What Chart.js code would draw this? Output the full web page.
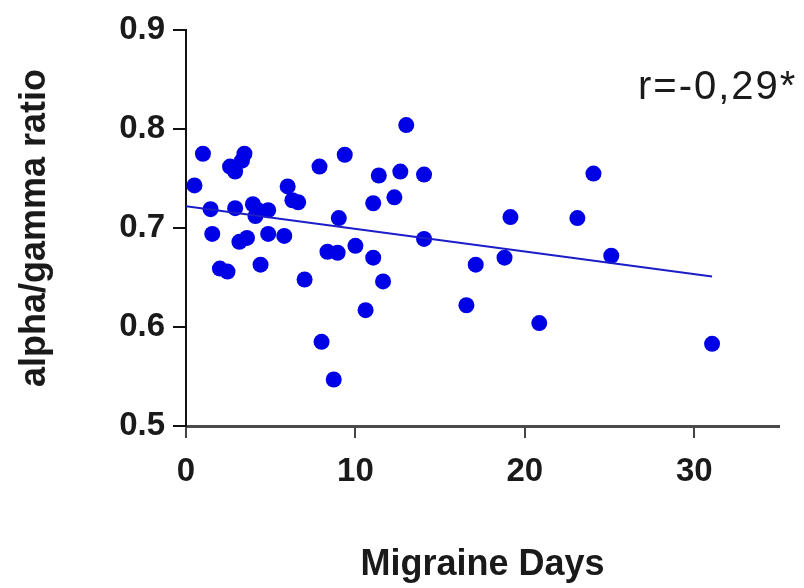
<!DOCTYPE html>
<html>
<head>
<meta charset="utf-8">
<script src="https://cdn.jsdelivr.net/npm/chart.js@4/dist/chart.umd.min.js"></script>
<style>
html,body{margin:0;padding:0;background:#fff;}
#wrap{width:804px;height:588px;position:relative;}
</style>
</head>
<body>
<div id="wrap"><canvas id="c" width="804" height="588"></canvas></div>
<script>
const migraineDays = [0.5,1.0,1.45,1.55,2.0,2.45,2.6,2.9,2.9,3.15,3.3,3.45,3.6,3.95,4.1,4.25,4.4,4.85,4.85,5.8,6.0,6.28,6.62,7.0,7.88,8.0,8.35,8.72,8.95,9.02,9.37,10.0,10.6,11.05,11.05,11.38,11.63,12.3,12.65,13.0,14.05,14.05,16.55,17.1,18.8,19.15,20.85,23.1,24.05,25.1,31.05];
const alphaGammaRatio = [0.743,0.775,0.719,0.694,0.659,0.656,0.762,0.757,0.720,0.686,0.768,0.775,0.690,0.724,0.712,0.718,0.663,0.718,0.694,0.692,0.742,0.728,0.726,0.648,0.762,0.585,0.676,0.547,0.675,0.710,0.774,0.682,0.617,0.670,0.725,0.753,0.646,0.731,0.757,0.804,0.754,0.689,0.622,0.663,0.670,0.711,0.604,0.710,0.755,0.672,0.583];
const fitX = [0, 31.05];
const fitY = [0.722, 0.651];
const xTicks = [0, 10, 20, 30];
const yTicks = [0.5, 0.6, 0.7, 0.8, 0.9];
const xTitle = 'Migraine Days';
const yTitle = 'alpha/gamma ratio';
const annotationText = 'r=-0,29*';

const scatterData = migraineDays.map((d, i) => ({x: d, y: alphaGammaRatio[i]}));
const fitData = fitX.map((d, i) => ({x: d, y: fitY[i]}));

const annotationPlugin = {
  id: 'rText',
  afterDraw(chart) {
    const ctx = chart.ctx;
    ctx.save();
    ctx.font = '40px "Liberation Sans", Arial, sans-serif';
    ctx.fillStyle = '#1a1a1a';
    ctx.textAlign = 'left';
    ctx.textBaseline = 'alphabetic';
    try { ctx.letterSpacing = '2px'; } catch (e) {}
    ctx.fillText(annotationText, 638, 99);
    ctx.restore();
  }
};

const tickFont = {family: '"Liberation Sans", Arial, sans-serif', size: 33, weight: 'bold'};
const titleFont = {family: '"Liberation Sans", Arial, sans-serif', size: 36, weight: 'bold'};

new Chart(document.getElementById('c'), {
  type: 'scatter',
  data: {
    datasets: [
      {
        type: 'line',
        data: fitData,
        borderColor: '#1c1cc8',
        borderWidth: 2,
        pointRadius: 0,
        fill: false,
        tension: 0
      },
      {
        data: scatterData,
        backgroundColor: '#0000e6',
        borderColor: '#0000e6',
        pointRadius: 8,
        pointHoverRadius: 8,
        borderWidth: 0
      }
    ]
  },
  options: {
    responsive: false,
    animation: false,
    events: [],
    layout: {padding: {top: 30, right: 25, bottom: 0, left: 0}},
    plugins: {legend: {display: false}, tooltip: {enabled: false}},
    scales: {
      x: {
        type: 'linear',
        min: 0,
        max: 35,
        afterBuildTicks(scale) { scale.ticks = xTicks.map(v => ({value: v})); },
        afterFit(scale) { scale.height = 162; },
        grid: {display: true, drawOnChartArea: false, drawTicks: true, tickLength: 12, color: '#444', lineWidth: 2},
        border: {display: true, color: '#4a4a4a', width: 3},
        ticks: {font: tickFont, color: '#1a1a1a', padding: 14, maxRotation: 0},
        title: {display: true, text: xTitle, font: titleFont, color: '#1a1a1a', padding: {top: 0, bottom: 1}}
      },
      y: {
        type: 'linear',
        min: 0.5,
        max: 0.9,
        afterBuildTicks(scale) { scale.ticks = yTicks.map(v => ({value: v})); },
        afterFit(scale) { scale.width = 186; },
        grid: {display: true, drawOnChartArea: false, drawTicks: true, tickLength: 13, color: '#111', lineWidth: 2},
        border: {display: true, color: '#111', width: 2},
        ticks: {font: tickFont, color: '#1a1a1a', padding: 8, callback: v => Number(v).toFixed(1)},
        title: {display: true, text: yTitle, font: titleFont, color: '#1a1a1a', padding: {top: 13, bottom: 0}}
      }
    }
  },
  plugins: [annotationPlugin]
});
</script>
</body>
</html>
